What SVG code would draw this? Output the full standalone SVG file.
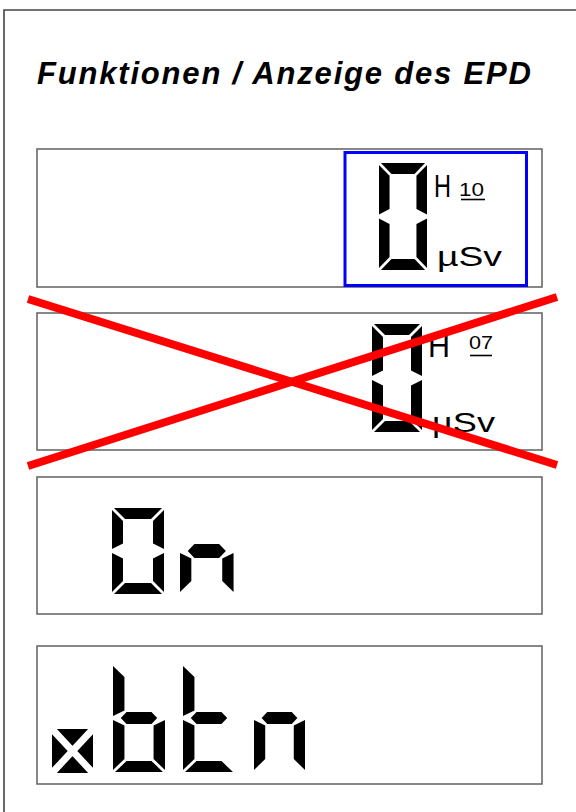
<svg xmlns="http://www.w3.org/2000/svg" xmlns:xlink="http://www.w3.org/1999/xlink" width="576" height="812" viewBox="0 0 576 812">
<style>
.panel{fill:#fff;stroke:#6a6a6a;stroke-width:1.6}
.seg{fill:#000}
.lbl{font-family:"Liberation Sans",Arial,sans-serif;fill:#000}
.ul{stroke:#000;stroke-width:1.6}
.cross{stroke:#ff0000;stroke-width:8;stroke-linecap:butt}
</style>
<defs>
<!-- tall digit: W=50 H=108 t=11 -->
<polygon id="Ta" points="2,0 48,0 37,11 13,11"/>
<polygon id="Tb" points="50,2 50,52 39,46.5 39,13"/>
<polygon id="Tc" points="50,56 50,106 39,95 39,61.5"/>
<polygon id="Td" points="13,97 37,97 48,108 2,108"/>
<polygon id="Te" points="0,56 11,61.5 11,95 0,106"/>
<polygon id="Tf" points="0,2 11,13 11,46.5 0,52"/>
<polygon id="Tg" points="7.5,54 13,48 37,48 42.5,54 37,60 13,60"/>
<!-- short digit: W=52 H=86 t=11 -->
<polygon id="Sa" points="2,0 50,0 39,11 13,11"/>
<polygon id="Sb" points="52,2 52,41 41,35.5 41,13"/>
<polygon id="Sc" points="52,45 52,84 41,73 41,50.5"/>
<polygon id="Sd" points="13,75 39,75 50,86 2,86"/>
<polygon id="Se" points="0,45 11,50.5 11,73 0,84"/>
<polygon id="Sf" points="0,2 11,13 11,35.5 0,41"/>
<polygon id="Sg" points="7.5,43 14,36 38,36 44.5,43 38,50 14,50"/>
</defs>

<g id="frame">
<path d="M 580 10 H 4 V 820" fill="none" stroke="#444" stroke-width="1.6"/>
</g>

<g id="title">
<text class="lbl" x="37" y="84" font-size="31" font-weight="bold" font-style="italic" textLength="494" lengthAdjust="spacing">Funktionen / Anzeige des EPD</text>
</g>

<g id="panel-h10">
<rect class="panel" x="37" y="149" width="505" height="138"/>
<rect x="345" y="152.5" width="181.5" height="133" fill="none" stroke="#0000ff" stroke-width="3"/>
<g class="seg" transform="translate(379,163) scale(0.96,0.99)">
<use xlink:href="#Ta"/><use xlink:href="#Tb"/><use xlink:href="#Tc"/><use xlink:href="#Td"/><use xlink:href="#Te"/><use xlink:href="#Tf"/>
</g>
<text class="lbl" x="434" y="197" font-size="32" textLength="17" lengthAdjust="spacingAndGlyphs">H</text>
<text class="lbl" x="459" y="195.5" font-size="19" textLength="25" lengthAdjust="spacingAndGlyphs">10</text>
<line class="ul" x1="461" y1="199.5" x2="485" y2="199.5"/>
<text class="lbl" x="437" y="266" font-size="27" textLength="65" lengthAdjust="spacingAndGlyphs">µSv</text>
</g>

<g id="panel-h07">
<rect class="panel" x="37" y="313" width="505" height="137"/>
<g class="seg" transform="translate(372,324)">
<use xlink:href="#Ta"/><use xlink:href="#Tb"/><use xlink:href="#Tc"/><use xlink:href="#Td"/><use xlink:href="#Te"/><use xlink:href="#Tf"/>
</g>
<text class="lbl" x="428" y="357" font-size="33" textLength="22" lengthAdjust="spacingAndGlyphs">H</text>
<text class="lbl" x="469" y="348.5" font-size="19" textLength="24" lengthAdjust="spacingAndGlyphs">07</text>
<line class="ul" x1="470" y1="355.5" x2="492" y2="355.5"/>
<text class="lbl" x="432" y="432" font-size="28" textLength="63" lengthAdjust="spacingAndGlyphs">µSv</text>
</g>

<g id="panel-on">
<rect class="panel" x="37" y="477" width="505" height="137"/>
<g class="seg" transform="translate(112,508)">
<use xlink:href="#Sa"/><use xlink:href="#Sb"/><use xlink:href="#Sc"/><use xlink:href="#Sd"/><use xlink:href="#Se"/><use xlink:href="#Sf"/>
</g>
<g class="seg" transform="translate(180,508) scale(1.03,1)">
<use xlink:href="#Sc"/><use xlink:href="#Se"/><use xlink:href="#Sg"/>
</g>
</g>

<g id="panel-btn">
<rect class="panel" x="37" y="646" width="505" height="138"/>
<g id="icon-x">
<rect x="52" y="729" width="41" height="44" fill="#000"/>
<path d="M 52 729 L 93 773 M 93 729 L 52 773" stroke="#fff" stroke-width="7"/>
</g>
<g class="seg" transform="translate(113,664) scale(1.04,1)">
<use xlink:href="#Tf"/><use xlink:href="#Te"/><use xlink:href="#Tg"/><use xlink:href="#Tc"/><use xlink:href="#Td"/>
</g>
<g class="seg" transform="translate(183,664) scale(1.04,1)">
<use xlink:href="#Tf"/><use xlink:href="#Te"/><use xlink:href="#Tg"/><use xlink:href="#Td"/>
</g>
<g class="seg" transform="translate(254,664) scale(1.02,1)">
<use xlink:href="#Tc"/><use xlink:href="#Te"/><use xlink:href="#Tg"/>
</g>
</g>

<g id="connectors">
<line class="cross" x1="28" y1="299" x2="557" y2="465"/>
<line class="cross" x1="28" y1="466" x2="557" y2="297"/>
</g>
</svg>
